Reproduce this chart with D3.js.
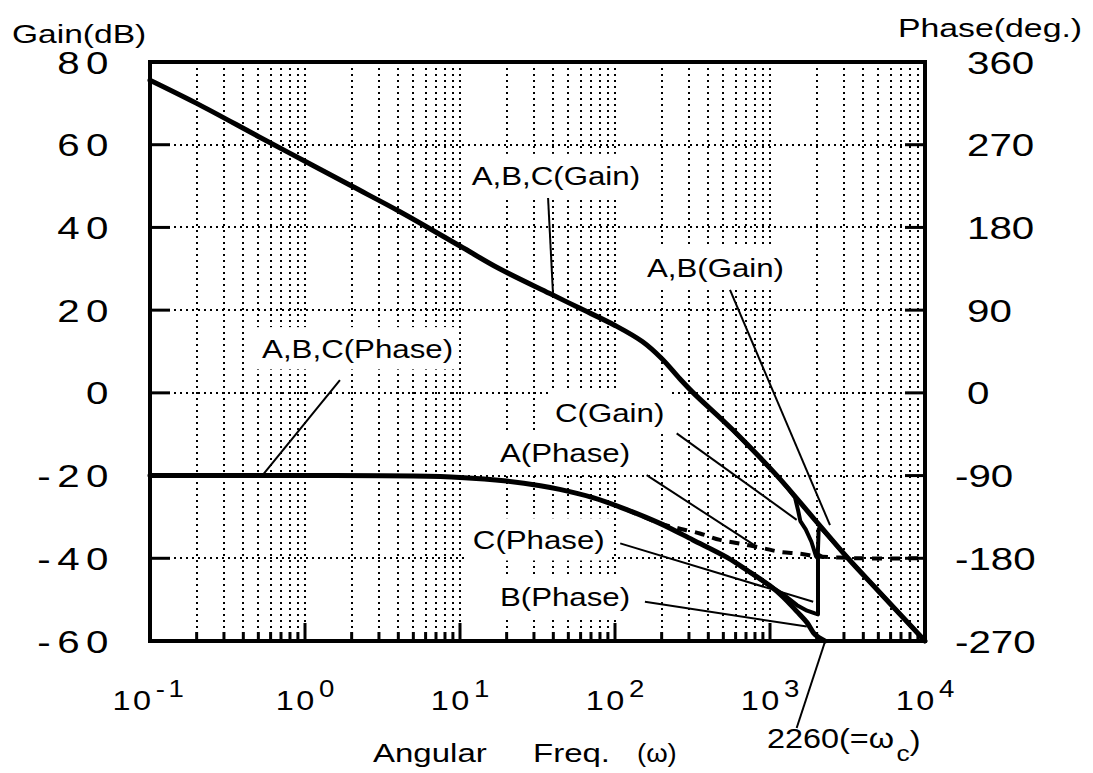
<!DOCTYPE html>
<html><head><meta charset="utf-8">
<script src="https://cdn.jsdelivr.net/npm/d3@7"></script>
<style>body{margin:0;background:#fff}svg{display:block}</style>
</head><body>
<svg id="c" width="1093" height="773"></svg>
<script>
// ---------- data ----------
const xDecades = [0.1, 1, 10, 100, 1000, 10000];
const xExponents = ["-1", "0", "1", "2", "3", "4"];
const gainTicks = [80, 60, 40, 20, 0, -20, -40, -60];
const gainTickLabels = ["80", "60", "40", "20", "0", "-20", "-40", "-60"];
const phaseTicks = [360, 270, 180, 90, 0, -90, -180, -270];
const phaseTickLabels = ["360", "270", "180", "90", "0", "-90", "-180", "-270"];

// gain of A and B (identical) [omega, dB]
const gainAB = [[0.1,75.6],[0.2,70],[0.5,62],[1,56],[2,50],[4.1,43.8],[10,35.5],[18,30],[38,24],[59,20.5],
  [100,16.3],[150,12.4],[200,8.3],[262,3.4],[320,0],[577,-9],[1109,-20],[2000,-31.2],[3185,-40],[5000,-47.9],[10000,-60]];
// gain of C (notch near 2000 rad/s)
const gainC = [[577,-9],[1109,-20],[1300,-23],[1450,-25.3],[1520,-28.5],[1570,-31],[1700,-33],[1850,-36],
  [1980,-39.5],[2030,-40],[2060,-33],[2100,-32.4],[3185,-40],[5000,-47.9],[10000,-60]];
// phase [omega, deg]
const phaseB = [[0.1,-90],[1,-90],[5,-90.5],[10,-92],[20,-96],[33,-101],[44,-105],[72,-114],[119,-127],
  [195,-142],[318,-160],[528,-179],[711,-193],[1000,-210],[1213,-222],[1494,-238],[1734,-250],[1950,-263],[2260,-270]];
const phaseA = [[119,-127],[195,-142],[251,-147],[353,-153],[475,-160],[640,-164],[901,-169],[1161,-173],
  [1563,-175],[2000,-178],[2624,-179],[3800,-180],[10000,-180]];
const phaseC = [[711,-193],[1000,-210],[1213,-219],[1494,-231],[1734,-237],[1950,-240],[2040,-241],[2040,-176],[2150,-178]];

// annotation texts, positions in data coords (omega, dB-scale)
const annotTexts = ["A,B,C(Gain)", "A,B(Gain)", "A,B,C(Phase)", "C(Gain)", "A(Phase)", "C(Phase)", "B(Phase)"];
const annotAt = [[11.9,50.3,"start"],[160.6,28,"start"],[9.02,8.4,"end"],[41,-7.05,"start"],[18.1,-16.7,"start"],[12.1,-37.8,"start"],[18.1,-51.5,"start"]];
const annotFrom = [[37,47.1],[552,24.9],[1.68,3.1],[250,-9.8],[160,-19.9],[108,-36.4],[156,-50.5]];
const annotTo = [[39.8,24.1],[2438,-32.0],[0.528,-20.1],[1486,-30.7],[820,-37.2],[1900,-50.5],[1727,-56.5]];
const wcValue = 2260;

// ---------- drawing ----------
const FONT = "'Liberation Sans', Arial, Helvetica, sans-serif";
const svg = d3.select("#c").attr("font-family", FONT);
const x = d3.scaleLog().domain([0.1, 1e4]).range([150, 925]);
const yG = d3.scaleLinear().domain([-60, 80]).range([641, 62]);
const yP = d3.scaleLinear().domain([-270, 360]).range([641, 62]);
const [X0, X1] = x.range(), [Y1, Y0] = yG.range();

const minor = [];
for (let e = -1; e < 4; e++) for (let k = 1; k < 10; k++) {
  const v = +(k * Math.pow(10, e)).toPrecision(6);
  if (v > 0.1 && v < 1e4) minor.push(v);
}

const grid = svg.append("g").attr("shape-rendering", "crispEdges");
grid.selectAll("line.v").data(minor).join("line")
  .attr("x1", d => Math.round(x(d))).attr("x2", d => Math.round(x(d))).attr("y1", Y0).attr("y2", Y1)
  .attr("stroke", "#000").attr("stroke-width", 2).attr("stroke-dasharray", "2,4");
grid.selectAll("line.h").data(gainTicks.slice(1, -1)).join("line")
  .attr("x1", X0).attr("x2", X1).attr("y1", d => Math.round(yG(d))).attr("y2", d => Math.round(yG(d)))
  .attr("stroke", "#000").attr("stroke-width", 2).attr("stroke-dasharray", "2,4");

function txt(parent, px, py, str, size, anchor, sx, ls, bg) {
  const g = parent.append("g").attr("transform", `translate(${px},${py}) scale(${sx},1)`);
  const t = g.append("text").attr("font-size", size).attr("text-anchor", anchor)
    .attr("letter-spacing", ls || 0).attr("fill", "#000").text(str);
  if (bg) {
    const b = t.node().getBBox();
    g.insert("rect", "text").attr("x", b.x - 6 / sx).attr("y", b.y - 8)
      .attr("width", b.width + 12 / sx).attr("height", b.height + 14).attr("fill", "#fff");
  }
  return t;
}

// annotation labels (with white background)
const labels = svg.append("g");
annotTexts.forEach((s, i) => {
  const a = annotAt[i];
  txt(labels, x(a[0]), yG(a[1]), s, 25, a[2], 1.25, 0, true);
});

// curves
const lineG = d3.line().x(d => x(d[0])).y(d => yG(d[1])).curve(d3.curveCatmullRom.alpha(0.5));
const lineGlin = d3.line().x(d => x(d[0])).y(d => yG(d[1]));
const lineP = d3.line().x(d => x(d[0])).y(d => yP(d[1])).curve(d3.curveCatmullRom.alpha(0.5));
const linePlin = d3.line().x(d => x(d[0])).y(d => yP(d[1]));
const curves = svg.append("g").attr("fill", "none").attr("stroke", "#000")
  .attr("stroke-linejoin", "round").attr("stroke-linecap", "round");
curves.append("path").attr("d", lineG(gainAB)).attr("stroke-width", 5);
curves.append("path").attr("d", lineGlin(gainC)).attr("stroke-width", 4);
curves.append("path").attr("d", lineP(phaseB)).attr("stroke-width", 5);
curves.append("path").attr("d", linePlin(phaseC)).attr("stroke-width", 4);
curves.append("path").attr("d", lineP(phaseA)).attr("stroke-width", 4)
  .attr("stroke-dasharray", "10,8").attr("stroke-linecap", "butt");

// pointer lines
const ptr = svg.append("g").attr("stroke", "#000").attr("stroke-width", 2);
annotFrom.forEach((f, i) => {
  const t = annotTo[i];
  ptr.append("line").attr("x1", x(f[0])).attr("y1", yG(f[1])).attr("x2", x(t[0])).attr("y2", yG(t[1]));
});
ptr.append("line").attr("x1", x(wcValue)).attr("y1", yG(-60) + 1).attr("x2", x(1486)).attr("y2", yG(-60) + 87);

// frame and ticks
const fr = svg.append("g").attr("stroke", "#000");
fr.append("rect").attr("x", X0).attr("y", Y0).attr("width", X1 - X0).attr("height", Y1 - Y0)
  .attr("fill", "none").attr("stroke-width", 4);
fr.selectAll("line.l").data(gainTicks.slice(1, -1)).join("line")
  .attr("x1", X0).attr("x2", X0 + 20).attr("y1", d => yG(d)).attr("y2", d => yG(d)).attr("stroke-width", 3);
fr.selectAll("line.r").data(gainTicks.slice(1, -1)).join("line")
  .attr("x1", X1 - 20).attr("x2", X1).attr("y1", d => yG(d)).attr("y2", d => yG(d)).attr("stroke-width", 3);
fr.selectAll("line.b").data(minor).join("line")
  .attr("x1", d => x(d)).attr("x2", d => x(d)).attr("y1", Y1)
  .attr("y2", d => Y1 - (xDecades.includes(d) ? 18 : 9)).attr("stroke-width", 3);

// axis labels
const ax = svg.append("g");
gainTickLabels.forEach((s, i) => txt(ax, 115, yG(gainTicks[i]) + 11.5, s, 31, "end", 1.3, 5));
phaseTickLabels.forEach((s, i) => txt(ax, s[0] === "-" ? 955 : 967, yP(phaseTicks[i]) + 11.5, s, 31, "start", 1.3, 0));
xDecades.forEach((d, i) => {
  const g = ax.append("g").attr("transform", `translate(${x(d)},710) scale(1.2,1)`);
  const t = g.append("text").attr("font-size", 27).attr("text-anchor", "middle");
  t.append("tspan").attr("letter-spacing", 2).text("10");
  t.append("tspan").attr("font-size", 23).attr("dy", -13).attr("dx", 2)
    .attr("letter-spacing", xExponents[i].length > 1 ? 3 : 0).text(xExponents[i]);
});

txt(ax, 12, 43, "Gain(dB)", 26, "start", 1.29, 0);
txt(ax, 898, 37, "Phase(deg.)", 26, "start", 1.3, 0);
txt(ax, 373, 762, "Angular", 25, "start", 1.32, 0);
txt(ax, 533, 762, "Freq.", 25, "start", 1.32, 0);
txt(ax, 637, 762, "(ω)", 25, "start", 1.1, 0);

const wc = ax.append("g").attr("transform", "translate(767,748) scale(1.2,1)");
const wt = wc.append("text").attr("font-size", 27);
wt.append("tspan").text(wcValue + "(=ω");
wt.append("tspan").attr("font-size", 22).attr("dy", 13).attr("dx", 2).text("c");
wt.append("tspan").attr("dy", -11).text(")");
</script>
</body></html>
